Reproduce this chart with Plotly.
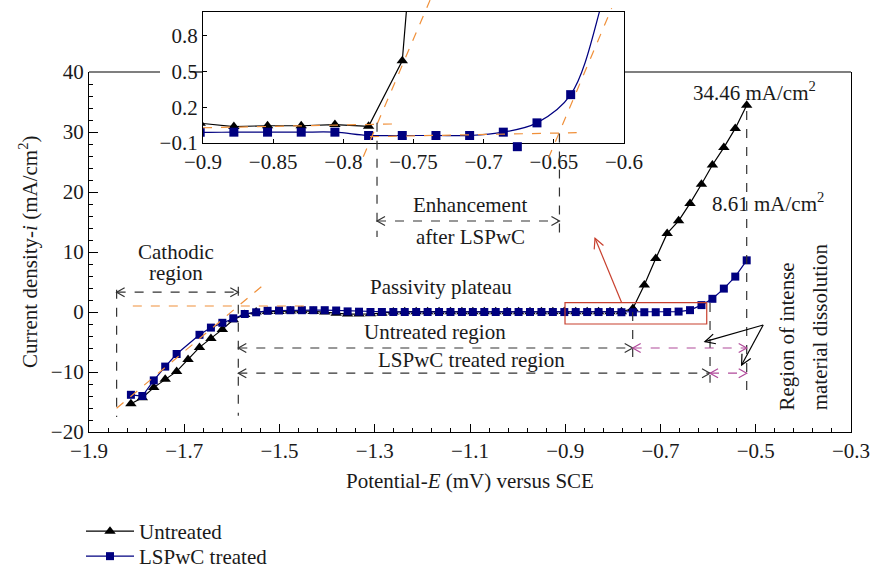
import math
import plotly.graph_objects as go

# ---------------- data ----------------
x_pot = [-1.812, -1.788, -1.764, -1.740, -1.716, -1.692, -1.668, -1.644, -1.620, -1.597,
         -1.573, -1.549, -1.525, -1.501, -1.477, -1.453, -1.429, -1.405, -1.381, -1.357,
         -1.333, -1.309, -1.285, -1.261, -1.237, -1.213, -1.189, -1.165, -1.141, -1.117,
         -1.094, -1.070, -1.046, -1.022, -0.998, -0.974, -0.950, -0.926, -0.902, -0.878,
         -0.854, -0.830, -0.806, -0.782, -0.758, -0.734, -0.710, -0.686, -0.662, -0.638,
         -0.614, -0.591, -0.567, -0.543, -0.519]

i_untreated = [-15.3, -14.3, -12.6, -11.2, -9.9, -7.9, -5.9, -4.4, -2.9, -1.3,
               -0.4, 0.0, 0.1, 0.1, 0.15, 0.2, 0.1, 0.0, -0.2, -0.35,
               -0.35, -0.3, -0.2, 0.0, 0.05, 0.05, 0.05, 0.05, 0.05, 0.05,
               0.05, 0.05, 0.05, 0.05, 0.05, 0.05, 0.05, 0.06, 0.066, 0.038,
               0.045, 0.045, 0.055, 0.04, 0.59, 4.5, 8.9, 13.1, 15.2, 18.1,
               21.3, 24.5, 27.4, 30.6, 34.46]

x_treated = [-1.812, -1.788, -1.764, -1.740, -1.716, -1.668, -1.644, -1.620, -1.597,
             -1.573, -1.549, -1.525, -1.501, -1.477, -1.453, -1.429, -1.405, -1.381, -1.357,
             -1.333, -1.309, -1.285, -1.261, -1.237, -1.213, -1.189, -1.165, -1.141, -1.117,
             -1.094, -1.070, -1.046, -1.022, -0.998, -0.974, -0.950, -0.926, -0.902, -0.878,
             -0.854, -0.830, -0.806, -0.782, -0.758, -0.734, -0.710, -0.686, -0.662, -0.638,
             -0.614, -0.591, -0.567, -0.543, -0.519]

i_treated = [-13.8, -14.0, -11.4, -9.1, -7.0, -3.8, -2.6, -1.8, -1.05,
             -0.33, -0.05, 0.2, 0.25, 0.3, 0.3, 0.3, 0.3, 0.25, 0.1,
             0.05, 0.0, 0.0, 0.0, 0.0, 0.0, 0.0, 0.0, 0.0, 0.0,
             0.0, 0.0, 0.0, 0.0, 0.0, 0.0, 0.0, 0.0, -0.01, -0.009,
             -0.009, -0.009, -0.009, -0.037, -0.037, -0.037, -0.037, -0.009, 0.069, 0.306,
             1.15, 2.2, 3.9, 5.9, 8.61]

# stray square visible just below the inset frame
x_stray = [-0.676]
i_stray = [-0.131]

main_x_ticks = [-1.9, -1.7, -1.5, -1.3, -1.1, -0.9, -0.7, -0.5, -0.3]
main_y_ticks = [-20, -10, 0, 10, 20, 30, 40]
inset_x_ticks = [-0.9, -0.85, -0.8, -0.75, -0.7, -0.65, -0.6]
inset_y_ticks = [-0.1, 0.2, 0.5, 0.8]

# ---------------- layout geometry ----------------
W, H = 870, 569
ML, MR, MT, MB = 89, 19, 12, 137
PW, PH = W - ML - MR, H - MT - MB
MAIN_YTOP = 360 / PH
XR = [-1.9, -0.3]
YR = [-20, 40]
SX = PW / (XR[1] - XR[0])
SY = 360 / (YR[1] - YR[0])
IX = [-0.9, -0.6]
IY = [-0.1, 1.0]
IDX = [(203 - ML) / PW, (624 - ML) / PW]
IDY = [(432 - 143) / PH, 1.0]

FONT = "Liberation Serif"
FS = 21
BLK = "#000000"
NAVY = "#000080"
ORANGE = "#F0903A"
MAG = "#B04A9A"
DASHC = "#333333"
RED = "#C8402E"


def inset_paper(xi, yi):
    xp = IDX[0] + (xi - IX[0]) / (IX[1] - IX[0]) * (IDX[1] - IDX[0])
    yp = IDY[0] + (yi - IY[0]) / (IY[1] - IY[0]) * (IDY[1] - IDY[0])
    return xp, yp


def main_ypaper(y):
    return (y - YR[0]) / (YR[1] - YR[0]) * MAIN_YTOP


def chevron(x, y, dx, dy, color, xref="x", yref="y", size=8, half=4.5):
    n = math.hypot(dx, dy)
    ux, uy = dx / n, dy / n
    bx, by = -ux * size, -uy * size
    qx, qy = -uy * half, ux * half
    path = f"M{bx + qx:.2f},{by + qy:.2f} L0,0 L{bx - qx:.2f},{by - qy:.2f}"
    return dict(type="path", xref=xref, yref=yref, xsizemode="pixel", ysizemode="pixel",
                xanchor=x, yanchor=y, path=path, line=dict(color=color, width=1.2))


def seg(x0, y0, x1, y1, color, dash=None, width=1.2, xref="x", yref="y"):
    return dict(type="line", xref=xref, yref=yref, x0=x0, y0=y0, x1=x1, y1=y1,
                line=dict(color=color, width=width, dash=dash))


fig = go.Figure()

# main traces
fig.add_trace(go.Scatter(x=x_pot, y=i_untreated, mode="lines+markers", name="Untreated",
                         line=dict(color=BLK, width=1.2),
                         marker=dict(symbol="triangle-up", size=10, color=BLK),
                         xaxis="x", yaxis="y", legend="legend"))
fig.add_trace(go.Scatter(x=x_treated, y=i_treated, mode="lines+markers", name="LSPwC treated",
                         line=dict(color=NAVY, width=1.2),
                         marker=dict(symbol="square", size=8, color=NAVY),
                         xaxis="x", yaxis="y", legend="legend2"))
# inset traces
fig.add_trace(go.Scatter(x=x_pot, y=i_untreated, mode="lines+markers", showlegend=False,
                         line=dict(color=BLK, width=1.2),
                         marker=dict(symbol="triangle-up", size=10, color=BLK),
                         xaxis="x2", yaxis="y2"))
fig.add_trace(go.Scatter(x=x_treated, y=i_treated, mode="lines+markers", showlegend=False,
                         line=dict(color=NAVY, width=1.2, shape="spline"),
                         marker=dict(symbol="square", size=9, color=NAVY),
                         xaxis="x2", yaxis="y2"))

shapes = []
# stray square below the inset frame (drawn unclipped)
for xs, ys in zip(x_stray, i_stray):
    sp = inset_paper(xs, ys)
    shapes.append(dict(type="rect", xref="paper", yref="paper", xsizemode="pixel", ysizemode="pixel",
                       xanchor=sp[0], yanchor=sp[1], x0=-4.5, x1=4.5, y0=-4.5, y1=4.5,
                       fillcolor=NAVY, line=dict(width=0)))

# top frame of main plot (interrupted by inset)
yt = MAIN_YTOP
for a, b in [(89, 160), (190, 203), (624, 851)]:
    shapes.append(seg((a - ML) / PW, yt, (b - ML) / PW, yt, BLK, width=1.2, xref="paper", yref="paper"))

# orange tangent lines in main
shapes.append(seg(-1.808, 1.0, -1.436, 1.0, ORANGE, dash="dash"))
shapes.append(seg(-1.842, -16.05, -1.534, 4.5, ORANGE, dash="dash"))

# black dashed verticals in main
for xv, y0, y1 in [(-1.842, 3.7, -17.5), (-1.5865, 4.2, -17.3), (-0.7584, 0.0, -7.6),
                   (-0.596, 1.5, -11.8), (-0.519, 33.5, -13.6)]:
    shapes.append(seg(xv, y0, xv, y1, DASHC, dash="dash"))

# horizontal double arrows
arrows = [(-1.842, -1.5865, 3.3, DASHC), (-1.5865, -0.7584, -6.0, DASHC),
          (-0.7584, -0.519, -6.0, MAG), (-1.5865, -0.596, -10.2, DASHC),
          (-0.596, -0.519, -10.2, MAG)]
for x0, x1, yy, c in arrows:
    shapes.append(seg(x0, yy, x1, yy, c, dash="dash"))
    shapes.append(chevron(x0, yy, -1, 0, c))
    shapes.append(chevron(x1, yy, 1, 0, c))

# red rectangle + arrow
shapes.append(dict(type="rect", xref="x", yref="y", x0=-0.9005, x1=-0.6029, y0=-2.0, y1=1.55,
                   line=dict(color=RED, width=1.2)))
ra = (-0.7815, 1.55, -0.8375, 12.3)
shapes.append(seg(*ra, RED))
shapes.append(chevron(ra[2], ra[3], (ra[2] - ra[0]) * SX, (ra[3] - ra[1]) * SY, RED, size=10, half=5))

# arrows to "Region of intense material dissolution"
apex = (-0.4844, -2.17)
for ex, ey in [(-0.6067, -4.95), (-0.5297, -8.83)]:
    shapes.append(seg(apex[0], apex[1], ex, ey, BLK))
    shapes.append(chevron(ex, ey, (ex - apex[0]) * SX, (ey - apex[1]) * SY, BLK, size=10, half=5))

# inset orange tangent lines (paper, unclipped)
for (xa, ya, xb, yb) in [(-0.9, 0.028, -0.7632, 0.06), (-0.7858, -0.215, -0.7382, 1.10),
                         (-0.781, -0.047, -0.6337, -0.0135), (-0.6539, -0.228, -0.6088, 1.031)]:
    p0 = inset_paper(xa, ya)
    p1 = inset_paper(xb, yb)
    shapes.append(seg(p0[0], p0[1], p1[0], p1[1], ORANGE, dash="dash", xref="paper", yref="paper"))

# enhancement verticals and arrow
ey_main = 15.17
ve = []
for xi, ytop in [(-0.776, 0.07), (-0.646, -0.02)]:
    xp, yp = inset_paper(xi, ytop)
    ve.append(xp)
    shapes.append(seg(xp, yp, xp, main_ypaper(12.5), DASHC, dash="dash", xref="paper", yref="paper"))
yp_e = main_ypaper(ey_main)
shapes.append(seg(ve[0], yp_e, ve[1], yp_e, DASHC, dash="dash", xref="paper", yref="paper"))
shapes.append(chevron(ve[0], yp_e, -1, 0, DASHC, xref="paper", yref="paper"))
shapes.append(chevron(ve[1], yp_e, 1, 0, DASHC, xref="paper", yref="paper"))

# ---------------- annotations ----------------
tf = dict(family=FONT, size=FS, color="#1a1a1a")
ann = []


def txt(x, y, s, **kw):
    d = dict(x=x, y=y, text=s, showarrow=False, font=tf, xref="x", yref="y",
             xanchor="center", yanchor="middle")
    d.update(kw)
    ann.append(d)


txt(-1.717, 10.0, "Cathodic")
txt(-1.717, 6.5, "region")
txt(-1.161, 4.17, "Passivity plateau")
txt(-1.173, -3.33, "Untreated region")
txt(-1.096, -8.0, "LSPwC treated region")
txt(-1.1, 17.8, "Enhancement")
txt(-1.1, 12.5, "after LSPwC")
txt(-0.502, 36.7, "34.46 mA/cm<sup>2</sup>")
txt(-0.474, 18.3, "8.61 mA/cm<sup>2</sup>")
txt(-0.435, -16.8, "Region of intense", textangle=-90, yanchor="bottom")
txt(-0.365, -16.8, "material dissolution", textangle=-90, yanchor="bottom")
txt(0.5, (432 - 481) / PH, "Potential-<i>E</i> (mV) versus SCE", xref="paper", yref="paper")
txt((28 - ML) / PW, (432 - 252) / PH, "Current density-<i>i</i> (mA/cm<sup>2</sup>)",
    xref="paper", yref="paper", textangle=-90)

axfont = dict(family=FONT, size=FS, color="#1a1a1a")
legfont = dict(family=FONT, size=FS, color="#1a1a1a")

fig.update_layout(
    width=W, height=H,
    margin=dict(l=ML, r=MR, t=MT, b=MB, pad=0, autoexpand=False),
    paper_bgcolor="white", plot_bgcolor="white",
    font=dict(family=FONT, size=FS, color="#1a1a1a"),
    showlegend=True,
    legend=dict(x=(81 - ML) / PW, y=(432 - 511) / PH, xanchor="left", yanchor="top",
                font=legfont, bgcolor="rgba(0,0,0,0)", itemwidth=48),
    legend2=dict(x=(81 - ML) / PW, y=(432 - 536) / PH, xanchor="left", yanchor="top",
                 font=legfont, bgcolor="rgba(0,0,0,0)", itemwidth=48),
    xaxis=dict(domain=[0, 1], range=XR, tickvals=main_x_ticks, ticks="inside", ticklen=8,
               tickcolor=BLK, showline=True, linecolor=BLK, linewidth=1.2, showgrid=False,
               zeroline=False, tickfont=axfont, anchor="y", automargin=False,
               ticklabeloverflow="allow",
               minor=dict(dtick=0.04, tick0=-1.9, ticks="inside", ticklen=4, tickcolor=BLK)),
    yaxis=dict(domain=[0, MAIN_YTOP], range=YR, tickvals=main_y_ticks, ticks="inside", ticklen=9,
               tickcolor=BLK, showline=True, linecolor=BLK, linewidth=1.2, mirror=True,
               showgrid=False, zeroline=False, tickfont=axfont, anchor="x", automargin=False,
               ticklabeloverflow="allow",
               minor=dict(dtick=2, tick0=0, ticks="inside", ticklen=4, tickcolor=BLK)),
    xaxis2=dict(domain=IDX, range=IX, tickvals=inset_x_ticks, ticks="inside", ticklen=4,
                tickcolor=BLK, showline=True, linecolor=BLK, linewidth=1.2, mirror=True,
                showgrid=False, zeroline=False, tickfont=axfont, anchor="y2", automargin=False,
                ticklabeloverflow="allow"),
    yaxis2=dict(domain=IDY, range=IY, tickvals=inset_y_ticks, ticks="inside", ticklen=4,
                tickcolor=BLK, showline=True, linecolor=BLK, linewidth=1.2, mirror=True,
                showgrid=False, zeroline=False, tickfont=axfont, anchor="x2", automargin=False,
                ticklabeloverflow="allow"),
    shapes=shapes,
    annotations=ann,
)

fig.write_html("out.html")
